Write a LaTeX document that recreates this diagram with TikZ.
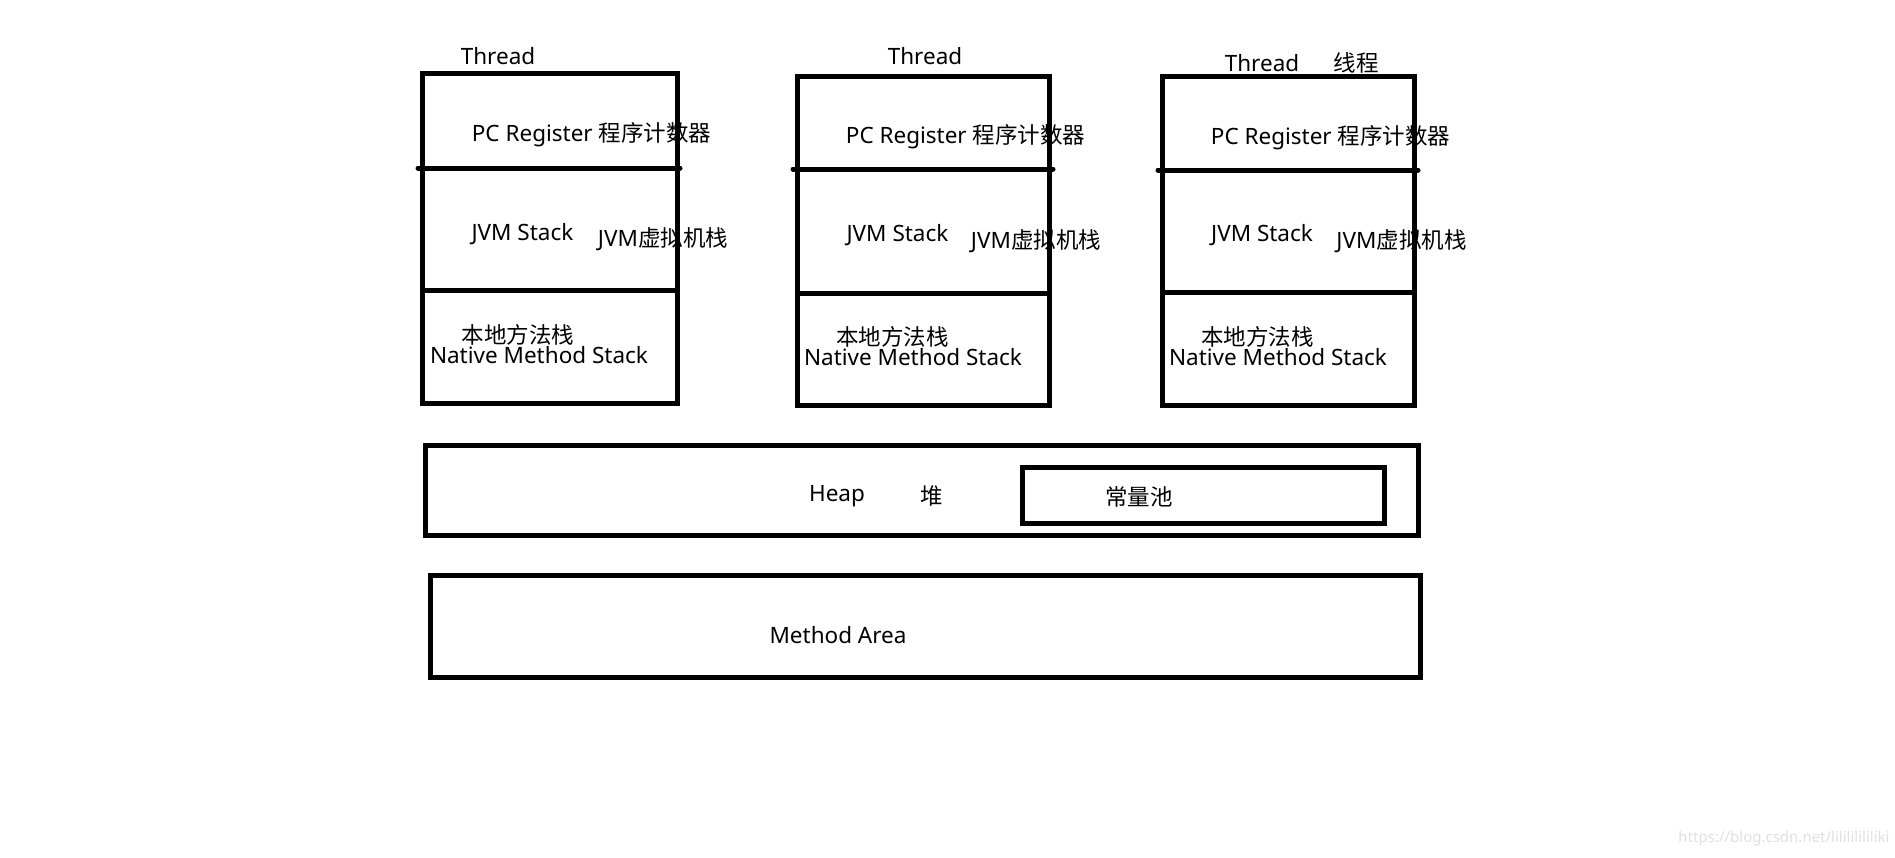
\documentclass[tikz,border=0pt]{standalone}
\usepackage{fontspec}
\setmainfont{Noto Sans}
\newfontfamily\cjk{Noto Sans CJK SC}
\begin{document}
\begin{tikzpicture}[x=1pt,y=-1pt,
  box/.style={draw=black,line width=5pt,inner sep=0pt},
  divider/.style={draw=black,line width=5pt,line cap=round},
  lbl/.style={inner sep=0pt,anchor=center,yshift=-2pt,font=\fontsize{22.5}{26}\selectfont},
  wm/.style={inner sep=0pt,anchor=center,text=black!12,font=\fontsize{15}{18}\selectfont}]
\useasboundingbox (0,0) rectangle (1895,857);
% thread boxes
\node[box,minimum width=255pt,minimum height=330pt] (t1) at (549.5,238) {};
\node[box,minimum width=252pt,minimum height=329pt] (t2) at (923,240.5) {};
\node[box,minimum width=252pt,minimum height=329pt] (t3) at (1288,240.5) {};
% dividers
\coordinate (d1a) at (418,168); \coordinate (d1b) at (680,168);
\coordinate (e1a) at (422,290); \coordinate (e1b) at (677,290);
\coordinate (d2a) at (793,169); \coordinate (d2b) at (1053,169);
\coordinate (e2a) at (797,293); \coordinate (e2b) at (1049,293);
\coordinate (d3a) at (1158,170); \coordinate (d3b) at (1418,170);
\coordinate (e3a) at (1162,292); \coordinate (e3b) at (1414,292);
\draw[divider] (d1a) -- (d1b);
\draw[divider,line cap=butt] (e1a) -- (e1b);
\draw[divider] (d2a) -- (d2b);
\draw[divider,line cap=butt] (e2a) -- (e2b);
\draw[divider] (d3a) -- (d3b);
\draw[divider,line cap=butt] (e3a) -- (e3b);
% thread 1 labels
\node[lbl] (th1) at (498,54) {Thread};
\node[lbl] (pc1) at (591.5,133) {PC Register {\cjk 程序计数器}};
\node[lbl] (js1) at (522.5,232) {JVM Stack};
\node[lbl] (jv1) at (663,237) {JVM{\cjk 虚拟机栈}};
\node[lbl] (nz1) at (518,333) {\cjk 本地方法栈};
\node[lbl] (nm1) at (539,353) {Native Method Stack};
% thread 2 labels
\node[lbl] (th2) at (925,54) {Thread};
\node[lbl] (pc2) at (965.5,135) {PC Register {\cjk 程序计数器}};
\node[lbl] (js2) at (897.5,233) {JVM Stack};
\node[lbl] (jv2) at (1036,239) {JVM{\cjk 虚拟机栈}};
\node[lbl] (nz2) at (892.5,335) {\cjk 本地方法栈};
\node[lbl] (nm2) at (913,355) {Native Method Stack};
% thread 3 labels
\node[lbl] (th3) at (1262,61) {Thread};
\node[lbl] (xc3) at (1356,61) {\cjk 线程};
\node[lbl] (pc3) at (1330.5,136) {PC Register {\cjk 程序计数器}};
\node[lbl] (js3) at (1262,233) {JVM Stack};
\node[lbl] (jv3) at (1401.5,239) {JVM{\cjk 虚拟机栈}};
\node[lbl] (nz3) at (1257.5,335) {\cjk 本地方法栈};
\node[lbl] (nm3) at (1278,355) {Native Method Stack};
% heap
\node[box,minimum width=993pt,minimum height=90pt] (heap) at (921.5,490) {};
\node[box,minimum width=362pt,minimum height=56pt] (pool) at (1203,495) {};
\node[lbl] (heapt) at (837,494) {Heap};
\node[lbl] (dui) at (932,494) {\cjk 堆};
\node[lbl] (poolt) at (1139,495) {\cjk 常量池};
% method area
\node[box,minimum width=990pt,minimum height=102pt] (ma) at (925,626) {};
\node[lbl] (mat) at (838,633) {Method Area};
% watermark
\node[wm] (wmk) at (1784,839) {https://blog.csdn.net/lilililililiki};
\end{tikzpicture}
\end{document}
